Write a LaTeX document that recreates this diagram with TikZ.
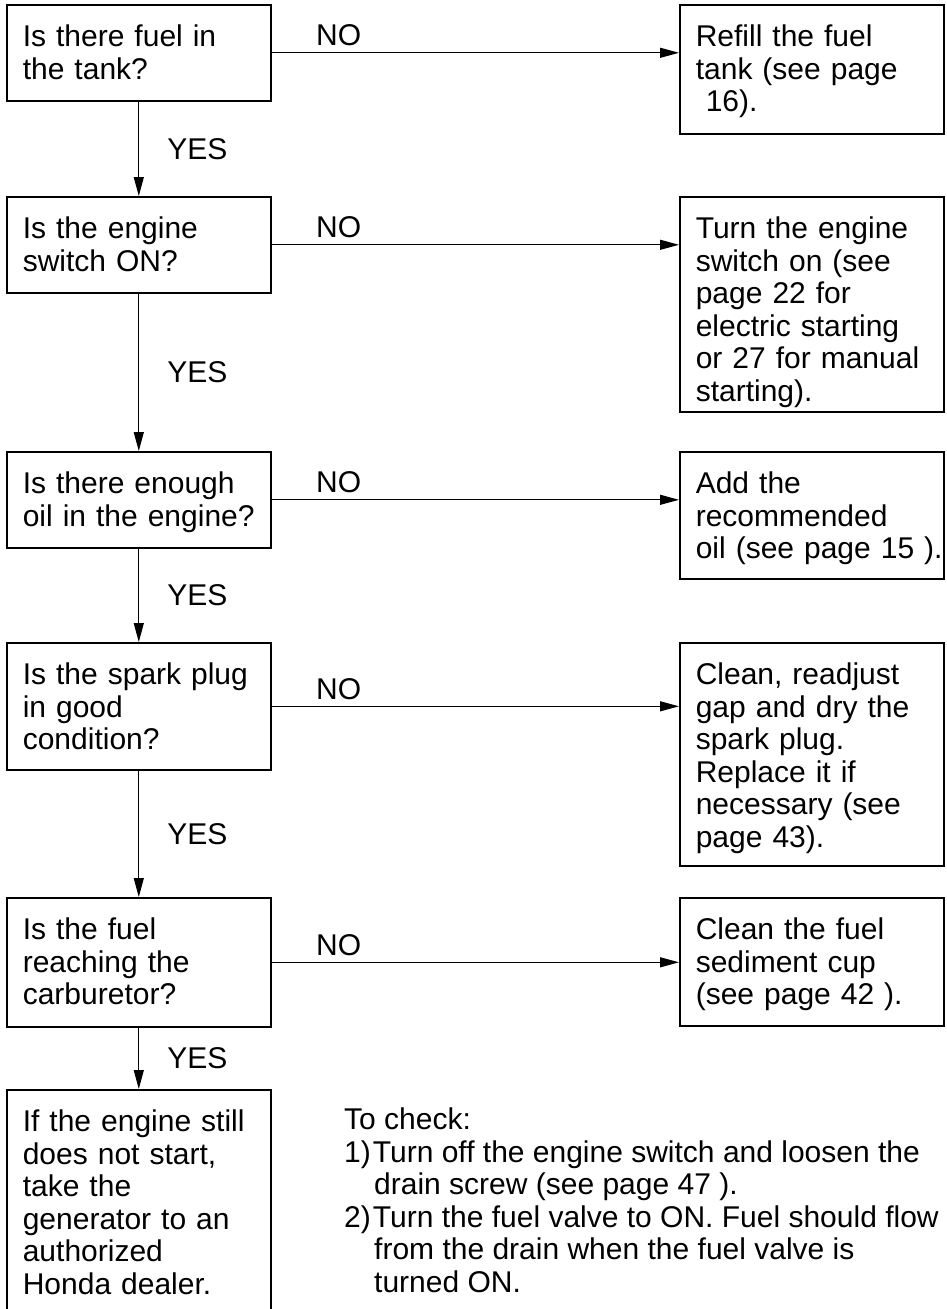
\documentclass[tikz,border=0pt]{standalone}
\usepackage{fontspec}
\setmainfont{Liberation Sans}
\usetikzlibrary{positioning,arrows.meta}

\begin{document}
\begin{tikzpicture}[x=1pt,y=1pt,
    txt/.style={font=\fontsize{30}{32.5}\selectfont},
    box/.style={txt,draw,line width=1.6pt,anchor=north west,align=left,text width=232pt,inner xsep=16pt,inner ysep=20pt,text height=22pt},
    arr/.style={line width=1.2pt,-{Triangle[length=19pt,width=10pt]}},
    nolbl/.style={txt,pos=0,anchor=south west,inner sep=0pt,xshift=44pt,yshift=6pt},
    yeslbl/.style={txt,midway,anchor=west,inner sep=0pt,xshift=28pt}]
    \useasboundingbox (0,0) rectangle (946,-1309);
    \fill[white] (0,0) rectangle (946,-1309);
    \clip (0,0) rectangle (946,-1309);

    \node[box,text depth=34pt] (q1) at (6,-4) {Is there fuel in\\the tank?};
    \node[box,text depth=67pt] (r1) at (679,-4) {Refill the fuel\\tank (see page\\\ 16).};
    \node[box,text depth=34pt] (q2) at (6,-196) {Is the engine\\switch ON?};
    \node[box,text depth=153pt] (r2) at (679,-196) {Turn the engine\\switch on (see\\page 22 for\\electric starting\\or 27 for manual\\starting).};
    \node[box,text depth=34pt] (q3) at (6,-451) {Is there enough\\oil in the engine?};
    \node[box,text depth=65pt] (r3) at (679,-451) {Add the\\recommended\\oil~(see~page~15~).};
    \node[box,text depth=65pt] (q4) at (6,-642) {Is the spark plug\\in good\\condition?};
    \node[box,text depth=161pt] (r4) at (679,-642) {Clean, readjust\\gap and dry the\\spark plug.\\Replace it if\\necessary (see\\page 43).};
    \node[box,text depth=67pt] (q5) at (6,-897) {Is the fuel\\reaching the\\carburetor?};
    \node[box,text depth=66pt] (r5) at (679,-897) {Clean the fuel\\sediment cup\\(see page 42 ).};
    \node[box,text depth=198pt] (q6) at (6,-1089) {If the engine still\\does not start,\\take the\\generator to an\\authorized\\Honda dealer.};
    \node[txt,anchor=north west,align=left,inner sep=0pt] (chk) at (344,-1108) {To check:\\
        1)\hspace{2pt}Turn off the engine switch and loosen the\\
        \hspace*{30pt}drain screw (see page 47 ).\\
        2)\hspace{2pt}Turn the fuel valve to ON. Fuel should flow\\
        \hspace*{30pt}from the drain when the fuel valve is\\
        \hspace*{30pt}turned ON.};

    \draw[arr] (q1.east) -- node[nolbl] {NO} (q1.east -| r1.west);
    \draw[arr] (q2.east) -- node[nolbl] {NO} (q2.east -| r2.west);
    \draw[arr] (q3.east) -- node[nolbl] {NO} (q3.east -| r3.west);
    \draw[arr] (q4.east) -- node[nolbl] {NO} (q4.east -| r4.west);
    \draw[arr] (q5.east) -- node[nolbl] {NO} (q5.east -| r5.west);
    \draw[arr] (q1) -- node[yeslbl] {YES} (q2);
    \draw[arr] (q2) -- node[yeslbl] {YES} (q3);
    \draw[arr] (q3) -- node[yeslbl] {YES} (q4);
    \draw[arr] (q4) -- node[yeslbl] {YES} (q5);
    \draw[arr] (q5) -- node[yeslbl] {YES} (q6);
\end{tikzpicture}
\end{document}
